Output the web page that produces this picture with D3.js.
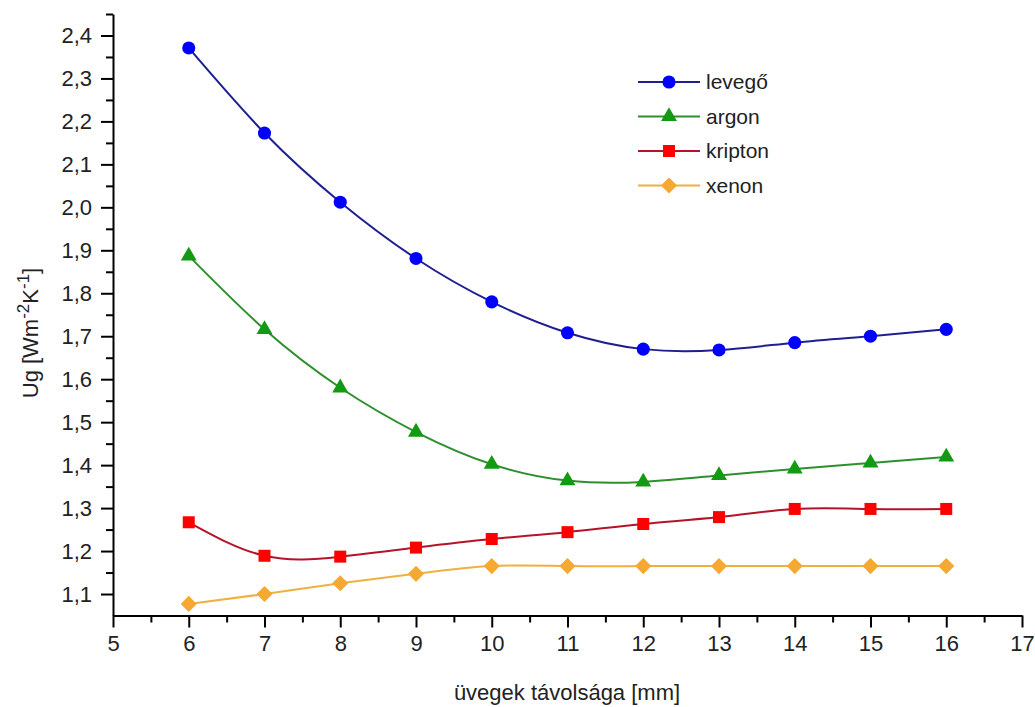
<!DOCTYPE html>
<html>
<head>
<meta charset="utf-8">
<script src="https://cdn.jsdelivr.net/npm/d3@7"></script>
<style>
  html, body { margin: 0; padding: 0; background: #fff; }
  svg { display: block; font-family: "Liberation Sans", Arial, sans-serif; }
</style>
</head>
<body>
<svg id="chart" width="1035" height="707"></svg>
<script>
// ---- data ----
const xValues = [6, 7, 8, 9, 10, 11, 12, 13, 14, 15, 16];
const levego  = [2.371, 2.173, 2.012, 1.881, 1.780, 1.708, 1.670, 1.668, 1.685, 1.700, 1.716];
const argon   = [1.887, 1.716, 1.580, 1.477, 1.402, 1.364, 1.361, 1.376, 1.391, 1.405, 1.419];
const kripton = [1.267, 1.189, 1.187, 1.208, 1.228, 1.244, 1.263, 1.279, 1.298, 1.298, 1.298];
const xenon   = [1.077, 1.100, 1.125, 1.147, 1.165, 1.165, 1.165, 1.165, 1.165, 1.165, 1.165];
const seriesNames = ["levegő", "argon", "kripton", "xenon"];
const xTickValues = [5, 6, 7, 8, 9, 10, 11, 12, 13, 14, 15, 16, 17];
const yTickValues = [1.1, 1.2, 1.3, 1.4, 1.5, 1.6, 1.7, 1.8, 1.9, 2.0, 2.1, 2.2, 2.3, 2.4];
const xTitle = "üvegek távolsága [mm]";

// ---- styles ----
const styles = [
  { line: "#1f1f8f", fill: "#0000ff", symbol: d3.symbolCircle, size: 135, rot: 0 },
  { line: "#2e8f2e", fill: "#129a12", symbol: d3.symbolTriangle, size: 110, rot: 0 },
  { line: "#b3142a", fill: "#ff0000", symbol: d3.symbolSquare, size: 144, rot: 0 },
  { line: "#f0b040", fill: "#f5a832", symbol: d3.symbolSquare, size: 130, rot: 45 }
];
const seriesData = [levego, argon, kripton, xenon];

const svg = d3.select("#chart");
const x = d3.scaleLinear().domain([5, 17]).range([113, 1022]);
const y = d3.scaleLinear().domain([1.05, 2.45]).range([615.5, 14]);

const fmt = v => d3.format(".1f")(v).replace(".", ",");

// X axis
const xAxis = d3.axisBottom(x).tickValues(xTickValues).tickFormat(d3.format("d"))
  .tickSizeInner(12).tickSizeOuter(0).tickPadding(8);
svg.append("g").attr("transform", `translate(0,${y.range()[0]})`).call(xAxis);
const xMinor = d3.axisBottom(x).tickValues(d3.range(5.5, 17, 1)).tickFormat("").tickSizeInner(7).tickSizeOuter(0);
svg.append("g").attr("transform", `translate(0,${y.range()[0]})`).call(xMinor).select(".domain").remove();

// Y axis
const yAxis = d3.axisLeft(y).tickValues(yTickValues).tickFormat(fmt)
  .tickSizeInner(12).tickSizeOuter(0).tickPadding(9);
svg.append("g").attr("transform", `translate(${x.range()[0]},0)`).call(yAxis);
const yMinor = d3.axisLeft(y).tickValues(d3.range(1.15, 2.46, 0.1)).tickFormat("").tickSizeInner(7).tickSizeOuter(0);
svg.append("g").attr("transform", `translate(${x.range()[0]},0)`).call(yMinor).select(".domain").remove();

svg.selectAll(".domain").attr("stroke", "#000").attr("stroke-width", 2);
svg.selectAll(".tick line").attr("stroke", "#000").attr("stroke-width", 2);
svg.selectAll(".tick text").attr("font-size", 22).attr("fill", "#222")
  .attr("font-family", "'Liberation Sans', Arial, sans-serif");

// axis titles
svg.append("text").attr("x", 567).attr("y", 700).attr("text-anchor", "middle")
  .attr("font-size", 22).attr("fill", "#222").text(xTitle);

const yt = svg.append("text").attr("transform", "translate(38,333) rotate(-90)")
  .attr("text-anchor", "middle").attr("font-size", 22).attr("fill", "#222");
yt.append("tspan").text("Ug [Wm");
yt.append("tspan").attr("dy", -9).attr("font-size", 17).text("-2");
yt.append("tspan").attr("dy", 9).text("K");
yt.append("tspan").attr("dy", -9).attr("font-size", 17).text("-1");
yt.append("tspan").attr("dy", 9).text("]");

// lines
const line = d3.line().x((d, i) => x(xValues[i])).y(d => y(d)).curve(d3.curveNatural);
seriesData.forEach((s, k) => {
  svg.append("path").datum(s).attr("d", line).attr("fill", "none")
    .attr("stroke", styles[k].line).attr("stroke-width", 2);
});
// markers
seriesData.forEach((s, k) => {
  const st = styles[k];
  svg.append("g").selectAll("path").data(s).join("path")
    .attr("d", d3.symbol().type(st.symbol).size(st.size))
    .attr("transform", (d, i) => `translate(${x(xValues[i])},${y(d)}) rotate(${st.rot})`)
    .attr("fill", st.fill);
});

// legend
const legend = svg.append("g");
seriesNames.forEach((name, k) => {
  const st = styles[k];
  const ly = 82 + k * 34.5;
  legend.append("line").attr("x1", 638).attr("x2", 700).attr("y1", ly).attr("y2", ly)
    .attr("stroke", st.line).attr("stroke-width", 2);
  legend.append("path").attr("d", d3.symbol().type(st.symbol).size(st.size))
    .attr("transform", `translate(669,${ly}) rotate(${st.rot})`).attr("fill", st.fill);
  legend.append("text").attr("x", 706).attr("y", ly + 7).attr("font-size", 21)
    .attr("fill", "#222").text(name);
});
</script>
</body>
</html>
